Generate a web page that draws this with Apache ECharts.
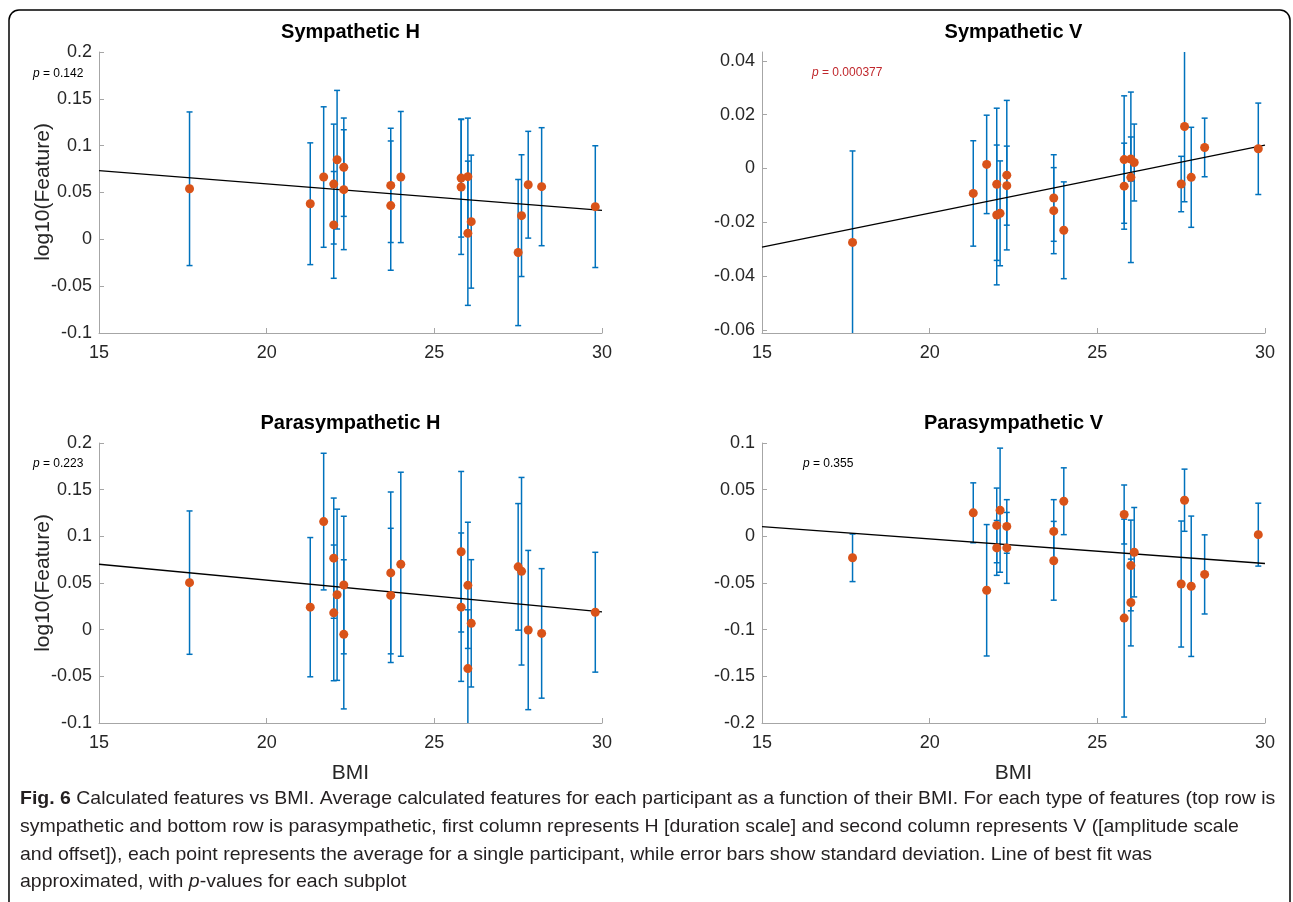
<!DOCTYPE html>
<html>
<head>
<meta charset="utf-8">
<title>Calculated features vs BMI</title>
<script src="https://cdn.jsdelivr.net/npm/echarts/dist/echarts.min.js"></script>
<style>
  html, body { margin: 0; padding: 0; background: #fff; }
  #chart { width: 1293px; height: 902px; }
</style>
</head>
<body>
<div id="chart"></div>
<script>
// BMI of each participant (shared by all four panels)
const bmi = [17.7, 21.3, 21.7, 22.0, 22.0, 22.1, 22.3, 22.3, 23.7, 23.7, 24.0,
             25.8, 25.8, 26.0, 26.0, 26.1, 27.5, 27.6, 27.8, 28.2, 29.8]

// Sympathetic H
const symH = [0.054, 0.038, 0.0665, 0.059, 0.0154, 0.085, 0.077, 0.053, 0.0576, 0.036, 0.0665,
              0.0654, 0.0559, 0.0669, 0.0065, 0.0189, -0.0141, 0.0253, 0.0583, 0.0562, 0.0349]
const symHErr = [0.082, 0.065, 0.075, 0.064, 0.057, 0.074, 0.0525, 0.064, 0.061, 0.069, 0.070,
                 0.063, 0.072, 0.0625, 0.077, 0.071, 0.078, 0.065, 0.057, 0.063, 0.065]
const symHFit = [0.0733, 0.031]

// Sympathetic V
const symV = [-0.0275, -0.0093, 0.0015, -0.0059, -0.0173, -0.0167, -0.0025, -0.0064, -0.011, -0.0157, -0.023,
              0.0033, -0.0066, 0.0035, -0.0033, 0.0022, -0.0058, 0.0156, -0.0033, 0.0078, 0.0073]
const symVErr = [0.034, 0.0196, 0.0183, 0.0283, 0.026, 0.0195, 0.0278, 0.0147, 0.0161, 0.016, 0.018,
                 0.0237, 0.016, 0.0082, 0.0317, 0.0143, 0.0103, 0.028, 0.0186, 0.0109, 0.017]
const symVFit = [-0.0293, 0.0087]

// Parasympathetic H
const paraH = [0.0504, 0.0241, 0.1158, 0.0766, 0.018, 0.0374, 0.0478, -0.005, 0.0608, 0.0367, 0.0701,
               0.0835, 0.0241, 0.0475, -0.0417, 0.0068, 0.0673, 0.0626, -0.0004, -0.004, 0.0187]
const paraHErr = [0.0768, 0.0746, 0.0732, 0.0644, 0.0727, 0.0917, 0.0737, 0.0799, 0.0867, 0.0719, 0.0986,
                  0.086, 0.0795, 0.0676, 0.063, 0.0682, 0.0678, 0.1005, 0.0853, 0.0694, 0.0642]
const paraHFit = [0.0701, 0.0191]

// Parasympathetic V
const paraV = [-0.023, 0.0252, -0.0578, 0.0117, -0.0124, 0.028, 0.0106, -0.0124, 0.0053, -0.0262, 0.0376,
               0.0234, -0.0876, -0.0312, -0.0709, -0.017, -0.0511, 0.0387, -0.0535, -0.0408, 0.0018]
const paraVErr = [0.0255, 0.0321, 0.0704, 0.04, 0.0294, 0.0665, 0.0287, 0.038, 0.034, 0.0422, 0.0358,
                  0.0316, 0.106, 0.0486, 0.0465, 0.0479, 0.0675, 0.0333, 0.0752, 0.0424, 0.0337]
const paraVFit = [0.0103, -0.0291]

const fitX = [15, 30]
const xTicks = [15, 20, 25, 30]
const yTicksH = [-0.1, -0.05, 0, 0.05, 0.1, 0.15, 0.2]
const yTicksSV = [-0.06, -0.04, -0.02, 0, 0.02, 0.04]
const yTicksPV = [-0.2, -0.15, -0.1, -0.05, 0, 0.05, 0.1]

const panels = [
  { title: 'Sympathetic H', y: symH, err: symHErr, fit: symHFit, ticks: yTicksH, min: -0.1, max: 0.2,
    p: '0.142', pColor: '#000', px: 33, py: 74 },
  { title: 'Sympathetic V', y: symV, err: symVErr, fit: symVFit, ticks: yTicksSV, min: -0.0612, max: 0.0433,
    p: '0.000377', pColor: '#c0282d', px: 812, py: 73 },
  { title: 'Parasympathetic H', y: paraH, err: paraHErr, fit: paraHFit, ticks: yTicksH, min: -0.1, max: 0.2,
    p: '0.223', pColor: '#000', px: 33, py: 464 },
  { title: 'Parasympathetic V', y: paraV, err: paraVErr, fit: paraVFit, ticks: yTicksPV, min: -0.2, max: 0.1,
    p: '0.355', pColor: '#000', px: 803, py: 464 }
]

const grids = [
  { left: 99, top: 52, width: 503, height: 281 },
  { left: 762, top: 52, width: 503, height: 281 },
  { left: 99, top: 443, width: 503, height: 280 },
  { left: 762, top: 443, width: 503, height: 280 }
]

const FONT = 'Liberation Sans, Arial, sans-serif'
const axisGray = '#a6a6a6'
const blue = '#0072bd'
const orange = '#d95319'

function fmt(v) {
  return String(parseFloat(v.toFixed(3)))
}

function errorBarItem(params, api) {
  const x = api.value(0)
  const lo = api.coord([x, api.value(1)])
  const hi = api.coord([x, api.value(2)])
  const w = 3
  const st = { stroke: blue, lineWidth: 1.5 }
  return {
    type: 'group',
    children: [
      { type: 'line', shape: { x1: lo[0], y1: lo[1], x2: hi[0], y2: hi[1] }, style: st },
      { type: 'line', shape: { x1: lo[0] - w, y1: lo[1], x2: lo[0] + w, y2: lo[1] }, style: st },
      { type: 'line', shape: { x1: hi[0] - w, y1: hi[1], x2: hi[0] + w, y2: hi[1] }, style: st }
    ]
  }
}

function txt(text, x, y, size, opts) {
  opts = opts || {}
  return {
    type: 'text',
    x: x,
    y: y,
    rotation: opts.rotation || 0,
    scaleX: opts.scaleX || 1,
    silent: true,
    style: {
      text: text,
      fontSize: size,
      fontFamily: opts.family || FONT,
      fontWeight: opts.weight || 'normal',
      fill: opts.color || '#262626',
      align: opts.align || 'center',
      verticalAlign: 'middle',
      textAlign: opts.align || 'center',
      textVerticalAlign: 'middle',
      rich: opts.rich
    }
  }
}

const xAxis = []
const yAxis = []
const series = []
const graphic = [
  { type: 'rect', silent: true, shape: { x: 9, y: 10, width: 1281, height: 1000, r: 10 },
    style: { fill: null, stroke: '#000', lineWidth: 1.5 } }
]

panels.forEach((p, i) => {
  xAxis.push({
    gridIndex: i, type: 'value', min: 15, max: 30,
    axisLine: { show: true, onZero: false, lineStyle: { color: axisGray, width: 1 } },
    axisTick: { show: true, inside: true, length: 5, customValues: xTicks, lineStyle: { color: axisGray } },
    axisLabel: { customValues: xTicks, color: '#262626', fontSize: 18, fontFamily: FONT, margin: 11 },
    splitLine: { show: false }
  })
  yAxis.push({
    gridIndex: i, type: 'value', min: p.min, max: p.max,
    axisLine: { show: true, onZero: false, lineStyle: { color: axisGray, width: 1 } },
    axisTick: { show: true, inside: true, length: 5, customValues: p.ticks, lineStyle: { color: axisGray } },
    axisLabel: { customValues: p.ticks, color: '#262626', fontSize: 18, fontFamily: FONT, margin: 7, formatter: fmt },
    splitLine: { show: false }
  })
  series.push({
    type: 'custom', xAxisIndex: i, yAxisIndex: i, clip: true, z: 1,
    renderItem: errorBarItem,
    encode: { x: 0, y: [1, 2] },
    data: bmi.map((b, k) => [b, p.y[k] - p.err[k], p.y[k] + p.err[k]])
  })
  series.push({
    type: 'line', xAxisIndex: i, yAxisIndex: i, z: 2, symbol: 'none', silent: true,
    lineStyle: { color: '#000', width: 1.3 },
    data: fitX.map((x, k) => [x, p.fit[k]])
  })
  series.push({
    type: 'scatter', xAxisIndex: i, yAxisIndex: i, z: 3, symbol: 'circle', symbolSize: 9,
    itemStyle: { color: orange, opacity: 1 },
    data: bmi.map((b, k) => [b, p.y[k]])
  })

  const g = grids[i]
  graphic.push(txt(p.title, g.left + g.width / 2, i < 2 ? 32 : 423, 20, { weight: 'bold', color: '#000' }))
  graphic.push(txt('{i|p} = ' + p.p, p.px, p.py, 12, {
    align: 'left', color: p.pColor,
    rich: { i: { fontStyle: 'italic', fontSize: 12, fontFamily: FONT, fill: p.pColor, color: p.pColor } }
  }))
})

// axis names
graphic.push(txt('log10(Feature)', 43, 192, 21, { rotation: Math.PI / 2 }))
graphic.push(txt('log10(Feature)', 43, 583, 21, { rotation: Math.PI / 2 }))
graphic.push(txt('BMI', 350.5, 773, 21))
graphic.push(txt('BMI', 1013.5, 773, 21))

// figure caption
const captionLines = [
  '{b|Fig. 6} Calculated features vs BMI. Average calculated features for each participant as a function of their BMI. For each type of features (top row is',
  'sympathetic and bottom row is parasympathetic, first column represents H [duration scale] and second column represents V ([amplitude scale',
  'and offset]), each point represents the average for a single participant, while error bars show standard deviation. Line of best fit was',
  'approximated, with {i|p}-values for each subplot'
]
const captionY = [799, 827, 855, 882]
captionLines.forEach((line, k) => {
  graphic.push(txt(line, 20, captionY[k], 19, {
    align: 'left', color: '#231f20', scaleX: 1.025,
    rich: {
      b: { fontWeight: 'bold', fontSize: 19, fontFamily: FONT, color: '#231f20' },
      i: { fontStyle: 'italic', fontSize: 19, fontFamily: FONT, color: '#231f20' }
    }
  }))
})

const options = {
  animation: false,
  backgroundColor: '#fff',
  grid: grids,
  xAxis: xAxis,
  yAxis: yAxis,
  series: series,
  graphic: graphic
}

const chart = echarts.init(document.getElementById('chart'), null, { renderer: 'canvas' })
chart.setOption(options)
window.addEventListener('resize', () => {
  chart.resize()
})
</script>
</body>
</html>
